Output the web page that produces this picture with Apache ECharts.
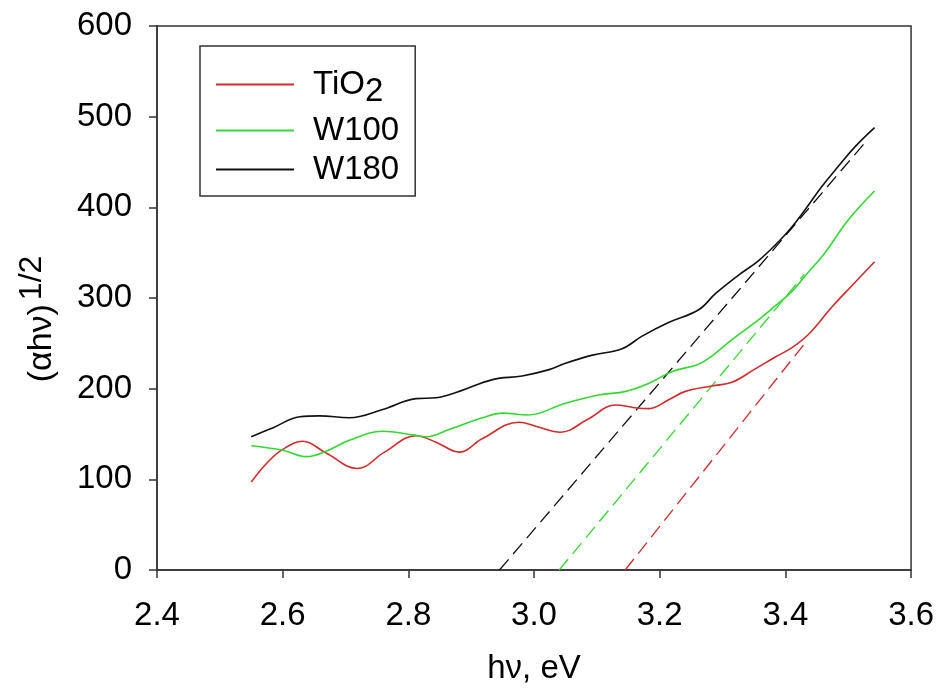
<!DOCTYPE html>
<html>
<head>
<meta charset="utf-8">
<script src="https://cdn.jsdelivr.net/npm/echarts@6/dist/echarts.min.js"></script>
<style>
html,body{margin:0;padding:0;background:#fff;}
#chart{width:937px;height:690px;}
</style>
</head>
<body>
<div id="chart"></div>
<script>
// ---- data (x in eV, y in (αhν)^1/2) ----
const xTicks = [2.4, 2.6, 2.8, 3.0, 3.2, 3.4, 3.6];
const yTicks = [0, 100, 200, 300, 400, 500, 600];

const tio2 = [[2.550,97],[2.575,118],[2.600,133],[2.632,142],[2.669,129],[2.719,112],[2.762,130],[2.812,148],[2.844,141],[2.881,130],[2.918,145],[2.976,163],[3.005,158],[3.042,152],[3.085,166],[3.130,182],[3.160,179],[3.183,178],[3.215,188],[3.241,197],[3.283,203],[3.315,207],[3.350,221],[3.384,235],[3.410,245],[3.437,260],[3.474,290],[3.505,313],[3.542,340]];

const w100 = [[2.550,137],[2.600,132],[2.638,125],[2.669,131],[2.706,143],[2.759,153],[2.807,149],[2.828,147],[2.865,155],[2.918,168],[2.950,173],[2.990,171],[3.050,184],[3.103,193],[3.146,197],[3.183,206],[3.220,219],[3.262,227],[3.283,236],[3.315,254],[3.352,273],[3.380,289],[3.410,307],[3.431,324],[3.463,350],[3.500,386],[3.542,418]];

const w180 = [[2.550,147],[2.585,157],[2.627,169],[2.659,170],[2.706,168],[2.759,177],[2.812,189],[2.844,190],[2.881,197],[2.934,210],[2.981,214],[3.024,221],[3.050,228],[3.093,237],[3.140,244],[3.172,258],[3.214,273],[3.262,287],[3.289,305],[3.325,325],[3.357,341],[3.389,362],[3.410,378],[3.431,397],[3.458,423],[3.484,445],[3.511,467],[3.542,488]];

// linear fits (tangent lines) at the absorption edge
const tio2Fit = [[3.145,0],[3.432,251]];
const w100Fit = [[3.040,0],[3.430,326]];
const w180Fit = [[2.945,0],[3.530,474]];

const seriesNames = ['TiO2', 'W100', 'W180'];
const colors = ['#d42a2a', '#33d833', '#111111'];

const chart = echarts.init(document.getElementById('chart'), null, {renderer: 'canvas'});
const font = 'Liberation Sans, Arial, sans-serif';
const fs = 33;

function solid(name, data, color) {
  return {name: name, type: 'line', data: data, smooth: 0.4, symbol: 'none',
          lineStyle: {color: color, width: 1.6}, itemStyle: {color: color}, z: 3};
}
function dashed(name, data, color) {
  return {name: name, type: 'line', data: data, symbol: 'none',
          lineStyle: {color: color, width: 1.3, type: [14, 7]}, itemStyle: {color: color}, z: 2};
}

chart.setOption({
  animation: false,
  backgroundColor: '#fff',
  grid: {left: 157, right: 25, top: 26, bottom: 119, show: true,
         borderColor: '#333', borderWidth: 1.5, backgroundColor: 'transparent'},
  legend: {
    data: seriesNames,
    orient: 'vertical', left: 200, top: 46,
    padding: [22, 16, 10, 15],
    itemWidth: 78, itemHeight: 14, itemGap: 6,
    borderColor: '#333', borderWidth: 1.5,
    itemStyle: {opacity: 0},
    formatter: function (n) { return n === 'TiO2' ? 'TiO{sub|2}' : n; },
    textStyle: {fontFamily: font, fontSize: fs, color: '#000', padding: [0, 0, 0, 14],
                rich: {sub: {fontFamily: font, fontSize: fs, color: '#000', padding: [14, 0, 0, 0]}}}
  },
  xAxis: {
    type: 'value', min: 2.4, max: 3.6, interval: 0.2,
    name: 'hν, eV', nameLocation: 'middle', nameGap: 82,
    nameTextStyle: {fontFamily: font, fontSize: fs, color: '#000'},
    axisLine: {show: true, onZero: false, lineStyle: {color: '#333', width: 1.5}},
    axisTick: {show: true, inside: false, length: 8, lineStyle: {color: '#333', width: 1.5}},
    axisLabel: {fontFamily: font, fontSize: fs, color: '#000', margin: 29,
                formatter: function (v) { return v.toFixed(1); }},
    splitLine: {show: false}
  },
  yAxis: {
    type: 'value', min: 0, max: 600, interval: 100,
    name: '(αhν){sup|1/2}', nameLocation: 'middle', nameGap: 89, nameRotate: 90,
    nameTextStyle: {fontFamily: font, fontSize: 34, color: '#000', padding: [0, 42, 0, 0],
                    rich: {sup: {fontFamily: font, fontSize: 32, color: '#000', padding: [0, 0, 20, 4]}}},
    axisLine: {show: true, lineStyle: {color: '#333', width: 1.5}},
    axisTick: {show: true, inside: false, length: 8, lineStyle: {color: '#333', width: 1.5}},
    axisLabel: {fontFamily: font, fontSize: fs, color: '#000', margin: 25},
    splitLine: {show: false}
  },
  series: [
    dashed('TiO2 fit', tio2Fit, colors[0]),
    dashed('W100 fit', w100Fit, colors[1]),
    dashed('W180 fit', w180Fit, colors[2]),
    solid(seriesNames[0], tio2, colors[0]),
    solid(seriesNames[1], w100, colors[1]),
    solid(seriesNames[2], w180, colors[2])
  ]
});
</script>
</body>
</html>
